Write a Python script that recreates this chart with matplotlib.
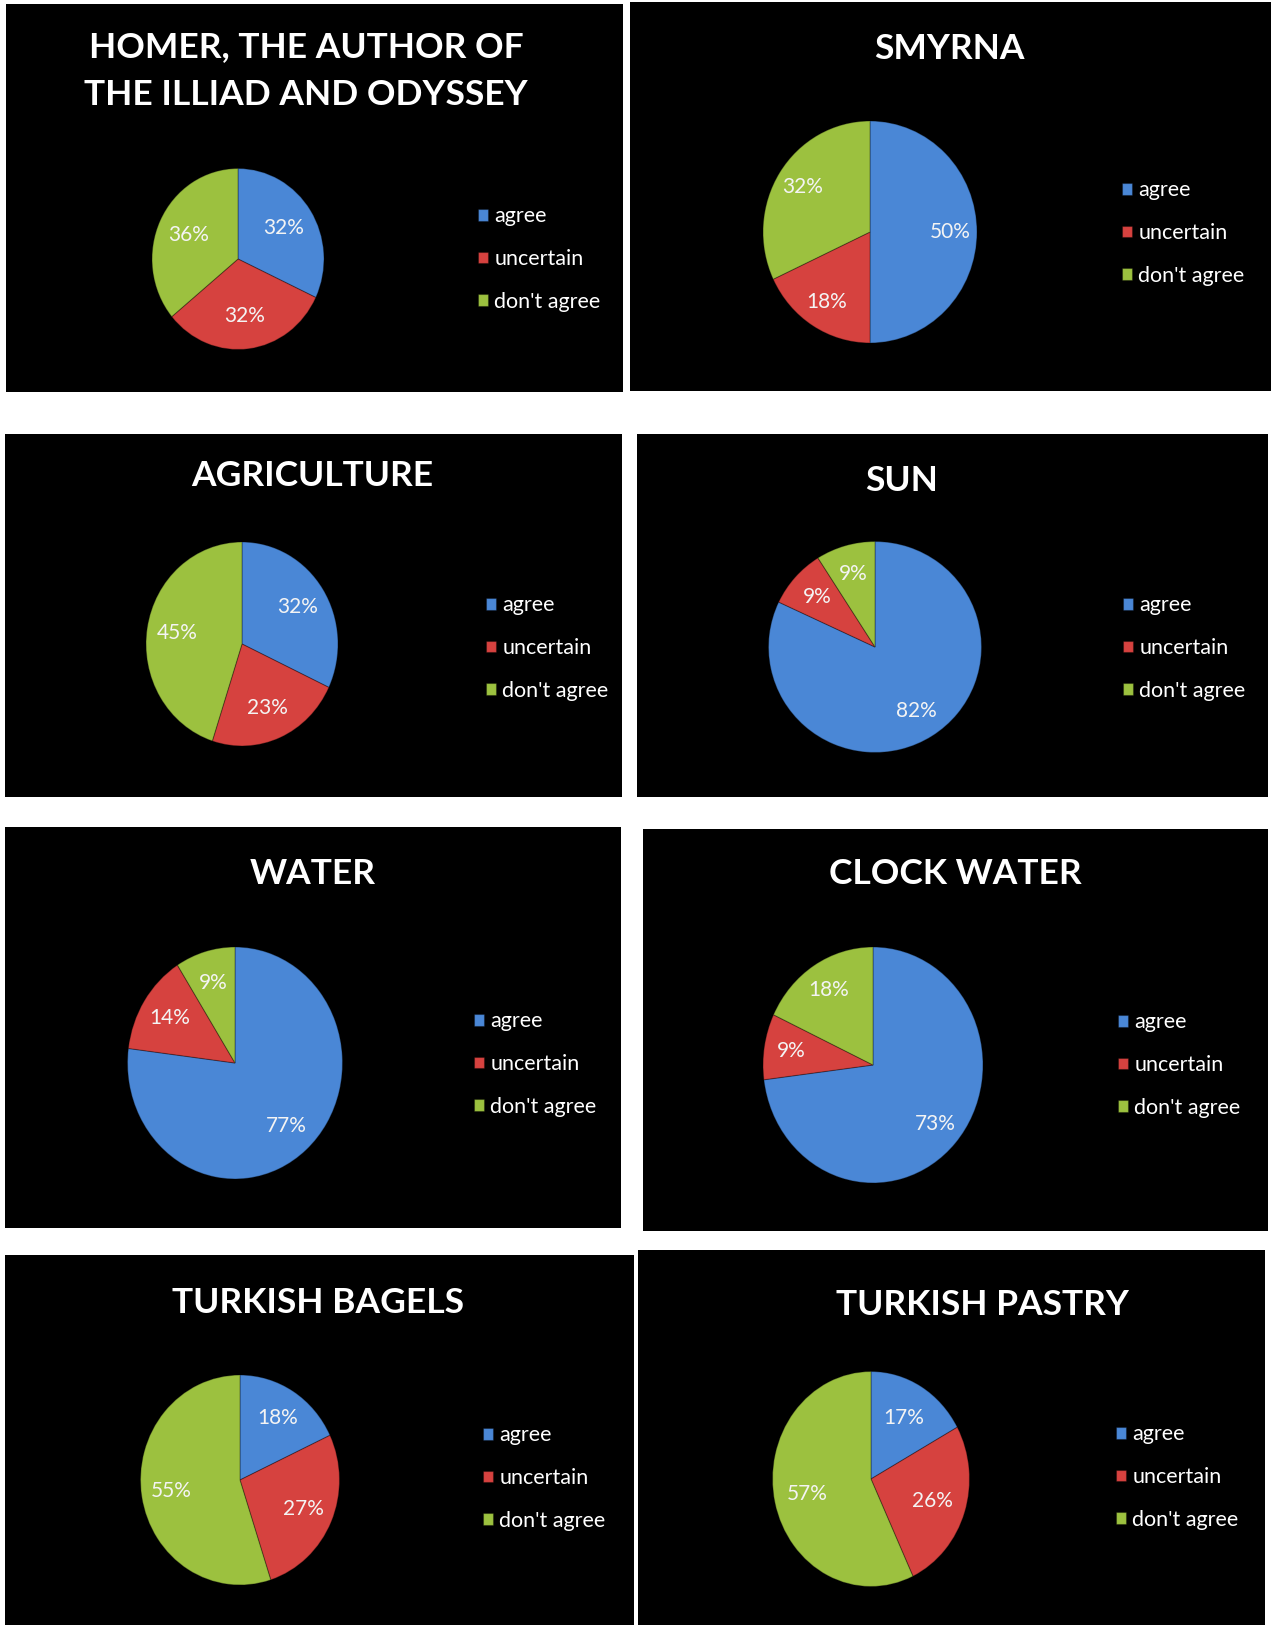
import matplotlib
matplotlib.use("Agg")
import matplotlib.pyplot as plt

plt.rcParams["font.family"] = ["Lato", "DejaVu Sans"]

# survey answers per item (percent)
titles = [
    "HOMER, THE AUTHOR OF\nTHE ILLIAD AND ODYSSEY",
    "SMYRNA",
    "AGRICULTURE",
    "SUN",
    "WATER",
    "CLOCK WATER",
    "TURKISH BAGELS",
    "TURKISH PASTRY",
]
categories = ["agree", "uncertain", "don't agree"]
agree = [32, 50, 32, 82, 77, 73, 18, 17]
uncertain = [32, 18, 23, 9, 14, 9, 27, 26]
dont_agree = [36, 32, 45, 9, 9, 18, 55, 57]

colors = ["#4a87d6", "#d6423f", "#9cc13f"]

W, H = 1272, 1625
DPI = 100

# layout in pixels, origin top-left
panel_boxes = [(6, 4, 623, 392), (630, 2, 1271, 391),
               (5, 434, 622, 797), (637, 434, 1268, 797),
               (5, 827, 621, 1228), (643, 829, 1268, 1231),
               (5, 1255, 634, 1625), (638, 1250, 1265, 1625)]
pie_boxes = [(238, 259, 172, 181), (870, 232, 214, 222),
             (242, 644, 192, 204), (875, 647, 213, 211),
             (235, 1063, 215, 232), (873, 1065, 220, 236),
             (240, 1480, 199, 210), (871, 1479, 197, 215)]
pct_dist = [0.63, 0.75, 0.68, 0.72, 0.72, 0.75, 0.70, 0.66]
title_pos = [(306, 71), (949, 49), (312, 476), (902, 481),
             (313, 874), (955, 874), (318, 1303), (982, 1305)]
legend_pos = [(478, 259), (1122, 233), (486, 648), (1123, 648),
              (474, 1064), (1118, 1065), (483, 1478), (1116, 1477)]


def fig_rect(x0, y0, x1, y1):
    return [x0 / W, 1 - y1 / H, (x1 - x0) / W, (y1 - y0) / H]


fig = plt.figure(figsize=(W / DPI, H / DPI), dpi=DPI, facecolor="white")

for i, title in enumerate(titles):
    bg = fig.add_axes(fig_rect(*panel_boxes[i]))
    bg.set_facecolor("black")
    bg.set_xticks([])
    bg.set_yticks([])
    for s in bg.spines.values():
        s.set_visible(False)

    tx, ty = title_pos[i]
    fig.text(tx / W, 1 - ty / H, title, color="white", fontsize=25.5,
             fontweight="bold", ha="center", va="center", linespacing=1.65)

    cx, cy, pw, ph = pie_boxes[i]
    ax = fig.add_axes(fig_rect(cx - pw / 2, cy - ph / 2, cx + pw / 2, cy + ph / 2))
    vals = [agree[i], uncertain[i], dont_agree[i]]
    wedges, _, autotexts = ax.pie(
        vals, colors=colors, startangle=90, counterclock=False,
        autopct=lambda p: f"{p:.0f}%", pctdistance=pct_dist[i],
        wedgeprops=dict(edgecolor=(0, 0, 0, 0.3), linewidth=0.8),
        textprops=dict(color="#f4f4f4", fontsize=15))
    ax.set_aspect("auto")
    ax.set_xlim(-1, 1)
    ax.set_ylim(-1, 1)
    ax.axis("off")

    lx, ly = legend_pos[i]
    fig.legend(wedges, categories, loc="center left",
               bbox_to_anchor=(lx / W, 1 - ly / H), frameon=False,
               labelcolor="white", fontsize=15.5, borderpad=0,
               borderaxespad=0, handlelength=0.45, handleheight=0.45,
               handletextpad=0.3, labelspacing=1.05)

fig.savefig("out.png", dpi=DPI, facecolor="white")
